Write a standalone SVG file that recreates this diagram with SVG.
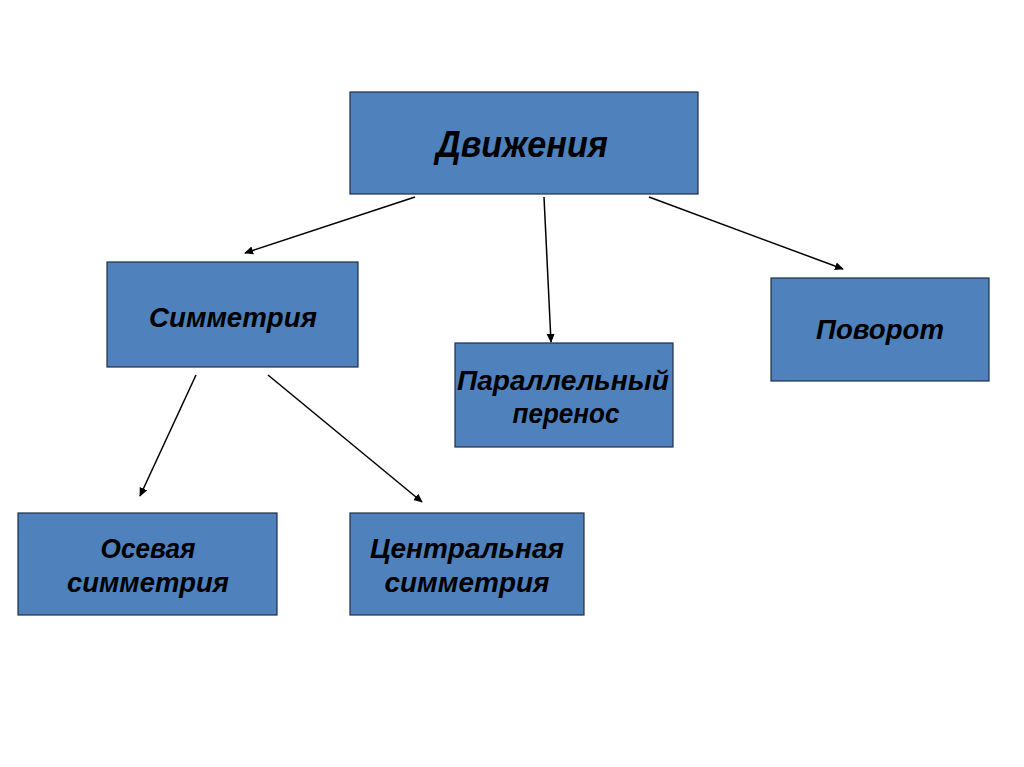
<svg xmlns="http://www.w3.org/2000/svg" width="1024" height="767" viewBox="0 0 1024 767">
<defs>
<style>
.box{fill:#4F81BD;stroke:#1F2F45;stroke-width:1.2}
.t{font-family:"Liberation Sans",Arial,sans-serif;font-weight:bold;font-style:italic;fill:#000;text-anchor:middle;font-size:27px}
.c{stroke:#000;stroke-width:1.5;fill:none;marker-end:url(#ah)}
</style>
<marker id="ah" viewBox="0 0 10 10" refX="9" refY="5" markerWidth="9" markerHeight="9" markerUnits="userSpaceOnUse" orient="auto">
<path d="M0,0.5 L10,5 L0,9.5 z" fill="#000"/>
</marker>
</defs>
<rect x="0" y="0" width="1024" height="767" fill="#fff"/>
<g id="connectors">
<line class="c" x1="415" y1="197" x2="245" y2="253"/>
<line class="c" x1="544" y1="197" x2="551" y2="342"/>
<line class="c" x1="649" y1="197" x2="843" y2="269"/>
<line class="c" x1="196" y1="375" x2="140" y2="496"/>
<line class="c" x1="268" y1="375" x2="422" y2="502"/>
</g>
<g id="n-dvizheniya">
<rect class="box" x="350" y="92" width="348" height="102"/>
<text class="t" x="522" y="157" style="font-size:36px" textLength="172" lengthAdjust="spacingAndGlyphs">Движения</text>
</g>
<g id="n-simmetriya">
<rect class="box" x="107" y="262" width="251" height="105"/>
<text class="t" x="233" y="327" textLength="168" lengthAdjust="spacingAndGlyphs">Симметрия</text>
</g>
<g id="n-povorot">
<rect class="box" x="771" y="278" width="218" height="103"/>
<text class="t" x="880" y="339" textLength="128" lengthAdjust="spacingAndGlyphs">Поворот</text>
</g>
<g id="n-parallel">
<rect class="box" x="455" y="343" width="218" height="104"/>
<text class="t" x="563" y="390" textLength="212" lengthAdjust="spacingAndGlyphs">Параллельный</text>
<text class="t" x="566" y="423" textLength="107" lengthAdjust="spacingAndGlyphs">перенос</text>
</g>
<g id="n-osevaya">
<rect class="box" x="18" y="513" width="259" height="102"/>
<text class="t" x="148" y="558" textLength="95" lengthAdjust="spacingAndGlyphs">Осевая</text>
<text class="t" x="148" y="592" textLength="162" lengthAdjust="spacingAndGlyphs">симметрия</text>
</g>
<g id="n-centralnaya">
<rect class="box" x="350" y="513" width="234" height="102"/>
<text class="t" x="467" y="558" textLength="194" lengthAdjust="spacingAndGlyphs">Центральная</text>
<text class="t" x="467" y="592" textLength="165" lengthAdjust="spacingAndGlyphs">симметрия</text>
</g>
</svg>
